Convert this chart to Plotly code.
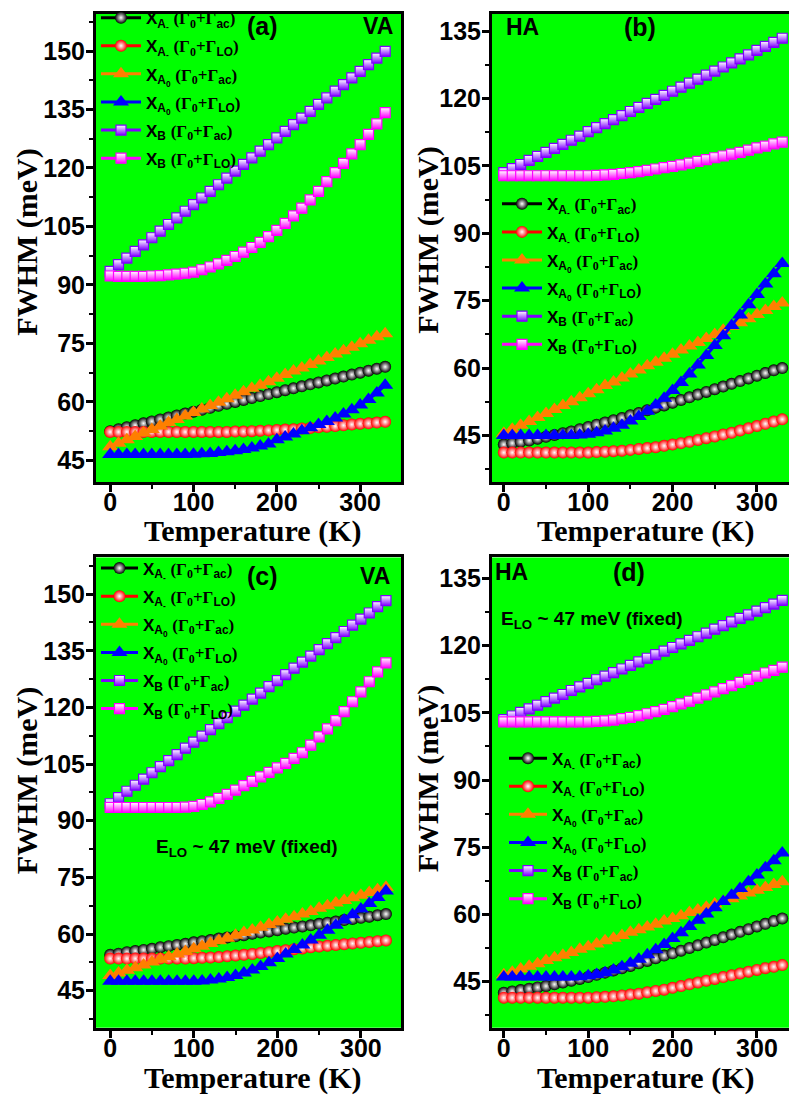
import plotly.graph_objects as go

W, H = 789, 1098

# ---------------- data ----------------
T = [0, 10, 20, 30, 40, 50, 60, 70, 80, 90, 100, 110, 120, 130, 140, 150, 160,
     170, 180, 190, 200, 210, 220, 230, 240, 250, 260, 270, 280, 290, 300, 310, 320, 330]

# panel (a) VA
a_Am_ac = [52.5, 53.0, 53.5, 54.0, 54.5, 55.0, 55.5, 56.0, 56.5, 57.0, 57.5, 58.0, 58.5, 59.0, 59.5, 60.0, 60.5,
           61.0, 61.5, 62.0, 62.5, 63.0, 63.5, 64.0, 64.5, 65.0, 65.5, 66.0, 66.5, 67.0, 67.5, 68.0, 68.5, 69.0]
a_Am_lo = [52.3, 52.3, 52.3, 52.3, 52.3, 52.3, 52.3, 52.3, 52.3, 52.3, 52.3, 52.3, 52.3, 52.3, 52.3, 52.4, 52.4,
           52.5, 52.6, 52.7, 52.8, 52.9, 53.0, 53.2, 53.3, 53.5, 53.6, 53.8, 54.0, 54.2, 54.4, 54.5, 54.7, 54.9]
a_A0_ac = [48.5, 49.4, 50.3, 51.1, 52.0, 52.9, 53.8, 54.7, 55.5, 56.4, 57.3, 58.2, 59.1, 59.9, 60.8, 61.7, 62.6,
           63.5, 64.3, 65.2, 66.1, 67.0, 67.9, 68.7, 69.6, 70.5, 71.4, 72.3, 73.1, 74.0, 74.9, 75.8, 76.7, 77.5]
a_A0_lo = [46.5, 46.5, 46.5, 46.5, 46.5, 46.5, 46.5, 46.5, 46.5, 46.5, 46.6, 46.7, 46.8, 47.0, 47.2, 47.5, 47.8,
           48.2, 48.7, 49.2, 50.3, 51.0, 51.8, 52.6, 53.4, 54.2, 55.0, 55.9, 56.9, 58.0, 59.2, 60.6, 62.3, 64.3]
a_B_ac = [93.5, 95.2, 96.9, 98.6, 100.3, 102.1, 103.8, 105.5, 107.2, 108.9, 110.6, 112.3, 114.0, 115.7, 117.4, 119.2, 120.9,
          122.6, 124.3, 126.0, 127.7, 129.4, 131.1, 132.8, 134.5, 136.3, 138.0, 139.7, 141.4, 143.1, 144.8, 146.5, 148.2, 149.9]
a_B_lo = [92.3, 92.2, 92.2, 92.2, 92.2, 92.3, 92.4, 92.6, 92.8, 93.0, 93.3, 93.9, 94.6, 95.4, 96.3, 97.3, 98.4,
          99.6, 100.9, 102.4, 104.0, 105.8, 107.7, 109.7, 111.8, 114.0, 116.5, 118.8, 121.2, 123.6, 126.0, 128.6, 131.3, 134.2]

# panel (b) HA
b_Am_ac = [43.0, 43.3, 43.6, 43.9, 44.3, 44.7, 45.1, 45.5, 45.9, 46.4, 46.9, 47.4, 47.9, 48.4, 48.9, 49.5, 50.0,
           50.6, 51.2, 51.7, 52.3, 52.9, 53.5, 54.1, 54.7, 55.3, 55.9, 56.5, 57.1, 57.7, 58.3, 58.9, 59.5, 60.0]
b_Am_lo = [41.2, 41.2, 41.2, 41.2, 41.2, 41.2, 41.2, 41.2, 41.2, 41.2, 41.2, 41.3, 41.4, 41.5, 41.6, 41.8, 42.0,
           42.2, 42.4, 42.7, 43.0, 43.3, 43.6, 44.0, 44.4, 44.8, 45.2, 45.6, 46.1, 46.6, 47.1, 47.6, 48.1, 48.6]
b_A0_ac = [45.5, 46.4, 47.3, 48.1, 49.0, 49.9, 50.8, 51.7, 52.5, 53.4, 54.3, 55.2, 56.1, 56.9, 57.8, 58.7, 59.6,
           60.5, 61.3, 62.2, 63.1, 64.0, 64.9, 65.7, 66.6, 67.5, 68.4, 69.3, 70.1, 71.0, 71.9, 72.8, 73.7, 74.5]
b_A0_lo = [45.0, 45.0, 45.0, 45.0, 45.0, 45.0, 45.0, 45.0, 45.0, 45.1, 45.3, 45.6, 46.0, 46.6, 47.3, 48.2, 49.2,
           50.4, 51.8, 53.3, 55.0, 56.8, 58.7, 60.7, 62.8, 65.0, 67.2, 69.5, 71.8, 74.1, 76.4, 78.7, 81.0, 83.3]
b_B_ac = [103.5, 104.4, 105.3, 106.2, 107.1, 108.0, 108.9, 109.8, 110.7, 111.6, 112.6, 113.5, 114.4, 115.3, 116.2, 117.1, 118.0,
          118.9, 119.8, 120.7, 121.6, 122.5, 123.4, 124.3, 125.2, 126.1, 127.0, 127.9, 128.8, 129.7, 130.7, 131.6, 132.5, 133.4]
b_B_lo = [102.8, 102.8, 102.8, 102.8, 102.8, 102.8, 102.8, 102.8, 102.8, 102.8, 102.8, 102.9, 103.0, 103.1, 103.3, 103.5, 103.7,
          104.0, 104.3, 104.6, 104.9, 105.2, 105.6, 106.0, 106.4, 106.8, 107.2, 107.6, 108.0, 108.5, 109.0, 109.4, 109.9, 110.3]

# panel (c) VA, E_LO fixed
c_Am_ac = [54.5, 54.8, 55.2, 55.5, 55.8, 56.1, 56.5, 56.8, 57.1, 57.4, 57.8, 58.1, 58.4, 58.8, 59.1, 59.4, 59.7,
           60.1, 60.4, 60.7, 61.0, 61.4, 61.7, 62.0, 62.3, 62.7, 63.0, 63.3, 63.7, 64.0, 64.3, 64.6, 65.0, 65.3]
c_Am_lo = [53.5, 53.5, 53.5, 53.5, 53.5, 53.5, 53.5, 53.5, 53.5, 53.5, 53.6, 53.7, 53.8, 53.9, 54.1, 54.3, 54.5,
           54.7, 55.0, 55.2, 55.5, 55.7, 56.0, 56.2, 56.5, 56.7, 56.9, 57.1, 57.3, 57.5, 57.7, 57.9, 58.1, 58.3]
c_A0_ac = [49.0, 49.7, 50.4, 51.1, 51.8, 52.6, 53.3, 54.0, 54.7, 55.4, 56.1, 56.8, 57.5, 58.2, 58.9, 59.7, 60.4,
           61.1, 61.8, 62.5, 63.2, 63.9, 64.6, 65.3, 66.0, 66.8, 67.5, 68.2, 68.9, 69.6, 70.3, 71.0, 71.7, 72.4]
c_A0_lo = [47.5, 47.5, 47.5, 47.5, 47.5, 47.5, 47.5, 47.5, 47.5, 47.5, 47.5, 47.6, 47.8, 48.1, 48.5, 49.0, 49.7,
           50.5, 51.4, 52.4, 53.5, 54.7, 55.9, 57.1, 58.4, 59.7, 61.0, 62.3, 63.7, 65.1, 66.6, 68.1, 69.7, 71.4]
c_B_ac = [94.5, 96.1, 97.8, 99.4, 101.0, 102.7, 104.3, 105.9, 107.5, 109.2, 110.8, 112.4, 114.1, 115.7, 117.3, 119.0, 120.6,
          122.2, 123.8, 125.5, 127.1, 128.7, 130.4, 132.0, 133.6, 135.3, 136.9, 138.5, 140.1, 141.8, 143.4, 145.0, 146.7, 148.3]
c_B_lo = [93.5, 93.5, 93.5, 93.5, 93.5, 93.5, 93.5, 93.5, 93.5, 93.6, 93.8, 94.3, 95.0, 95.9, 97.0, 98.1, 99.3,
          100.4, 101.6, 102.8, 104.0, 105.2, 106.5, 108.0, 110.0, 112.2, 114.3, 116.5, 118.9, 121.5, 124.1, 126.8, 129.4, 131.8]

# panel (d) HA, E_LO fixed
d_Am_ac = [42.5, 42.8, 43.1, 43.4, 43.7, 44.0, 44.4, 44.8, 45.2, 45.6, 46.0, 46.5, 47.0, 47.5, 48.0, 48.5, 49.1,
           49.6, 50.2, 50.8, 51.3, 51.9, 52.5, 53.1, 53.7, 54.3, 54.9, 55.5, 56.1, 56.7, 57.3, 57.9, 58.5, 59.1]
d_Am_lo = [41.4, 41.4, 41.4, 41.4, 41.4, 41.4, 41.4, 41.4, 41.4, 41.4, 41.4, 41.5, 41.6, 41.7, 41.9, 42.1, 42.3,
           42.6, 42.9, 43.2, 43.6, 44.0, 44.4, 44.8, 45.2, 45.6, 46.0, 46.4, 46.8, 47.2, 47.6, 48.0, 48.3, 48.7]
d_A0_ac = [46.5, 47.1, 47.8, 48.4, 49.0, 49.7, 50.3, 50.9, 51.5, 52.2, 52.8, 53.4, 54.1, 54.7, 55.3, 56.0, 56.6,
           57.2, 57.8, 58.5, 59.1, 59.7, 60.4, 61.0, 61.6, 62.3, 62.9, 63.5, 64.1, 64.8, 65.4, 66.0, 66.7, 67.3]
d_A0_lo = [46.0, 46.0, 46.0, 46.0, 46.0, 46.0, 46.0, 46.0, 46.0, 46.1, 46.3, 46.6, 47.0, 47.6, 48.3, 49.1, 50.0,
           51.0, 52.1, 53.3, 54.6, 55.9, 57.3, 58.7, 60.1, 61.5, 62.9, 64.3, 65.8, 67.3, 68.8, 70.4, 72.0, 73.7]
d_B_ac = [103.5, 104.3, 105.1, 105.9, 106.7, 107.5, 108.3, 109.1, 110.0, 110.8, 111.6, 112.4, 113.2, 114.0, 114.8, 115.6, 116.4,
          117.2, 118.0, 118.8, 119.6, 120.4, 121.2, 122.0, 122.8, 123.7, 124.5, 125.3, 126.1, 126.9, 127.7, 128.5, 129.3, 130.1]
d_B_lo = [103.0, 103.0, 103.0, 103.0, 103.0, 103.0, 103.0, 103.0, 103.0, 103.0, 103.0, 103.1, 103.2, 103.4, 103.7, 104.0, 104.4,
          104.8, 105.3, 105.8, 106.4, 107.0, 107.6, 108.3, 109.0, 109.7, 110.4, 111.1, 111.8, 112.5, 113.2, 113.9, 114.5, 115.2]

x_ticks = [0, 100, 200, 300]
x_minor = [50, 150, 250]
y_ticks_va = [45, 60, 75, 90, 105, 120, 135, 150]
y_ticks_ha = [45, 60, 75, 90, 105, 120, 135]

# ---------------- styling ----------------
GREEN = "#00ff00"
SERIF = "Liberation Serif"
SANS = "Liberation Sans"


def ser(s):
    return "<span style='font-family:%s'>%s</span>" % (SERIF, s)


def label(sub, broad):
    return ("X<sub>%s</sub> " % sub + ser("(Γ<sub>0</sub>+Γ") + "<sub>%s</sub>" % broad + ser(")"))


names = [label("A<sub>-</sub>", "ac"), label("A<sub>-</sub>", "LO"),
         label("A<sub>0</sub>", "ac"), label("A<sub>0</sub>", "LO"),
         label("B", "ac"), label("B", "LO")]

styles = [
    dict(symbol="circle", color="black", size=12, grad=dict(type="radial", color="white")),
    dict(symbol="circle", color="#ff0000", size=12, grad=dict(type="radial", color="white")),
    dict(symbol="triangle-up", color="#ff7f00", size=14, grad=None),
    dict(symbol="triangle-up", color="#0000ff", size=14, grad=None),
    dict(symbol="square", color="#8000ff", size=10, grad="sq"),
    dict(symbol="square", color="#ff00ff", size=10, grad="sq"),
]

panels = [
    dict(series=[a_Am_ac, a_Am_lo, a_A0_ac, a_A0_lo, a_B_ac, a_B_lo], px=(96, 401), py=(3, 476),
         xr=[-17, 349], yr=[39.4, 159.5], yt=y_ticks_va, mirror_y=True),
    dict(series=[b_Am_ac, b_Am_lo, b_A0_ac, b_A0_lo, b_B_ac, b_B_lo], px=(492, 789), py=(3, 476),
         xr=[-14, 338], yr=[34.6, 138.8], yt=y_ticks_ha, mirror_y=False),
    dict(series=[c_Am_ac, c_Am_lo, c_A0_ac, c_A0_lo, c_B_ac, c_B_lo], px=(96, 401), py=(552, 1027),
         xr=[-17, 348], yr=[35.2, 159.7], yt=y_ticks_va, mirror_y=True),
    dict(series=[d_Am_ac, d_Am_lo, d_A0_ac, d_A0_lo, d_B_ac, d_B_lo], px=(492, 789), py=(552, 1027),
         xr=[-14, 338], yr=[34.7, 139.7], yt=y_ticks_ha, mirror_y=False),
]

# legend anchor (px) and item width per panel
legend_pos = [(96, -11, 40), (497, 177, 40), (96, 545, 37), (504, 737, 38)]

fig = go.Figure()
layout = dict(width=W, height=H, margin=dict(l=0, r=0, t=0, b=0),
              paper_bgcolor="white", plot_bgcolor=GREEN, showlegend=True)

for i, p in enumerate(panels):
    k = "" if i == 0 else str(i + 1)
    xa, ya = "x" + k, "y" + k
    lg = "legend" if i == 0 else "legend%d" % (i + 1)
    for j, (vals, st) in enumerate(zip(p["series"], styles)):
        if st["grad"] == "sq":
            marker = dict(symbol="square", size=st["size"], color="white",
                          gradient=dict(type="vertical", color=st["color"]),
                          line=dict(color=st["color"], width=1.2))
        elif st["grad"] is not None:
            marker = dict(symbol=st["symbol"], size=st["size"], color=st["color"],
                          gradient=st["grad"], line=dict(width=0))
        else:
            marker = dict(symbol=st["symbol"], size=st["size"], color=st["color"], line=dict(width=0))
        fig.add_trace(go.Scatter(x=T, y=vals, mode="lines+markers", name=names[j],
                                 legendgroup="g%d%d" % (i, j),
                                 line=dict(color=st["color"], width=3), marker=marker,
                                 xaxis=xa, yaxis=ya, legend=lg))
    xdom = [p["px"][0] / W, p["px"][1] / W]
    ydom = [1 - p["py"][1] / H, 1 - p["py"][0] / H]
    axis_common = dict(showline=True, linecolor="black", linewidth=3, ticks="outside",
                       ticklen=7, tickwidth=2.5, tickcolor="black", showgrid=False, zeroline=False,
                       tickfont=dict(family=SANS, size=25, color="black", weight="bold"))
    layout["xaxis" + k] = dict(domain=xdom, range=p["xr"], tickvals=x_ticks, mirror=True,
                               anchor=ya, ticklabelstandoff=-11,
                               minor=dict(tickvals=x_minor, ticks="outside",
                                          ticklen=4, tickwidth=2, tickcolor="black"),
                               **axis_common)
    ymin = [v + 7.5 for v in p["yt"]] + [p["yt"][0] - 7.5]
    layout["yaxis" + k] = dict(domain=ydom, range=p["yr"], tickvals=p["yt"], mirror=p["mirror_y"],
                               anchor=xa, ticklabelstandoff=-4,
                               minor=dict(tickvals=ymin, ticks="outside",
                                          ticklen=4, tickwidth=2, tickcolor="black"),
                               **axis_common)
    lx, ly, iw = legend_pos[i]
    layout[lg] = dict(x=lx / W, y=1 - ly / H, xanchor="left", yanchor="top", bgcolor="rgba(0,0,0,0)",
                      borderwidth=0, tracegroupgap=3, itemwidth=iw,
                      font=dict(family=SANS, size=17, color="black", weight="bold"))

annots = []


def ann(text, x, y, size, family=SANS, angle=0, weight="bold", xanchor="center"):
    annots.append(dict(text=text, x=x / W, y=1 - y / H, xref="paper", yref="paper", showarrow=False,
                       xanchor=xanchor, yanchor="middle", textangle=angle,
                       font=dict(family=family, size=size, color="black", weight=weight)))


ann("(a)", 262, 15, 25)
ann("VA", 378, 15, 23)
ann("HA", 522, 16, 23)
ann("(b)", 640, 16, 25)
ann("(c)", 262, 571, 25)
ann("VA", 375, 571, 23)
ann("HA", 512, 567, 23)
ann("(d)", 629, 567, 25)
ann("E<sub>LO</sub> ~ 47 meV (fixed)", 247, 845, 19)
ann("E<sub>LO</sub> ~ 47 meV (fixed)", 499, 615, 19, xanchor="left")

for (cx, cy) in [(252, 525), (645, 525), (252, 1078), (645, 1078)]:
    ann("Temperature (K)", cx, cy, 30, family=SERIF)
for (cx, cy) in [(27, 234), (428, 232), (27, 778), (428, 776)]:
    ann("FWHM (meV)", cx, cy, 30, family=SERIF, angle=-90)

layout["annotations"] = annots
fig.update_layout(**layout)
fig.write_html("out.html", post_script="document.body.style.margin='0px';",
               config={"displayModeBar": False})
